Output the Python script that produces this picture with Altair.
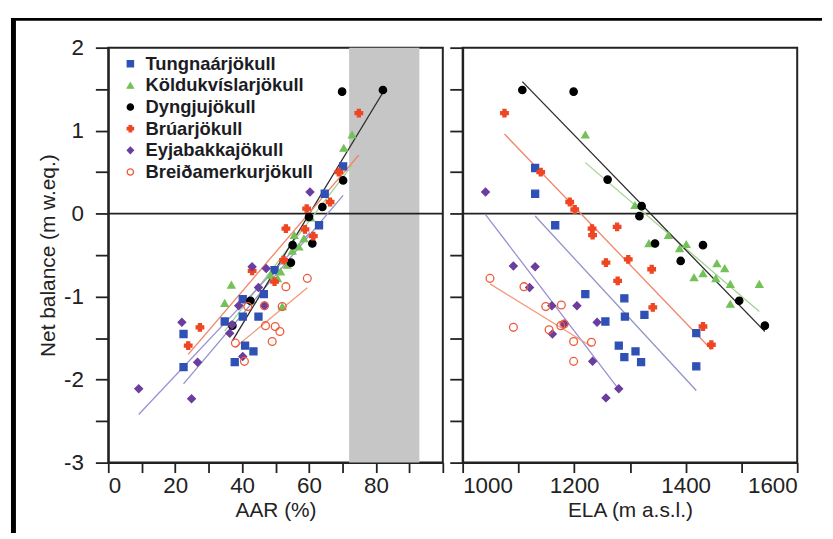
import altair as alt
import pandas as pd

GLACIERS = ["Tungnaárjökull", "Köldukvíslarjökull", "Dyngjujökull",
            "Brúarjökull", "Eyjabakkajökull", "Breiðamerkurjökull"]
SHAPES = ["square", "triangle-up", "circle", "cross", "diamond", "circle"]
FILLS = ["#2f50b4", "#74c15a", "#000000", "#ee4623", "#6a3d9e", "transparent"]
STROKES = ["#2f50b4", "#74c15a", "#000000", "#ee4623", "#6a3d9e", "#ee5a3a"]
SIZES = [64, 58, 88, 82, 50, 62]
LINE_COLORS = ["#8f93c9", "#a3d38f", "#2a2a2a", "#f08468", "#9b8fd3", "#f29a7c"]

# (AAR %, net balance m w.eq.)
TUNG_AAR = [(70.2, 0.57), (64.7, 0.24), (63.0, -0.14), (49.7, -0.68), (46.5, -0.97),
            (40.2, -1.03), (40.2, -1.24), (44.9, -1.24), (34.8, -1.30), (22.5, -1.45),
            (40.9, -1.59), (43.4, -1.66), (37.8, -1.79), (22.5, -1.85)]
KOLD_AAR = [(72.9, 0.95), (70.4, 0.79), (60.5, -0.05), (58.5, -0.30), (55.6, -0.26),
            (55.0, -0.45), (53.5, -0.62), (51.5, -0.70), (50.6, -0.78), (48.5, -0.74),
            (36.8, -0.86), (34.8, -1.08), (52.0, -1.12), (57.0, -0.40)]
DYNG_AAR = [(82.1, 1.49), (69.9, 1.47), (70.2, 0.40), (64.0, 0.08), (60.0, -0.04),
            (61.0, -0.36), (55.1, -0.38), (54.6, -0.59), (42.5, -1.05), (37.1, -1.35)]
BRUA_AAR = [(74.9, 1.21), (68.9, 0.50), (66.3, 0.14), (59.3, 0.06), (53.1, -0.18),
            (58.8, -0.19), (61.3, -0.27), (52.4, -0.56), (43.0, -0.69), (49.7, -0.82),
            (27.4, -1.37), (23.9, -1.59)]
EYJA_AAR = [(60.3, 0.26), (43.0, -0.64), (47.2, -0.66), (44.9, -0.89), (39.0, -1.11),
            (46.7, -1.11), (22.0, -1.31), (37.0, -1.34), (36.3, -1.44), (40.2, -1.72),
            (26.7, -1.79), (9.1, -2.11), (24.9, -2.23)]
BREI_AAR = [(59.5, -0.78), (53.1, -0.88), (41.7, -1.12), (46.7, -1.11), (52.0, -1.12),
            (47.0, -1.35), (49.9, -1.36), (51.3, -1.42), (38.0, -1.56), (49.0, -1.54),
            (40.7, -1.78)]

# (ELA m a.s.l., net balance m w.eq.)
TUNG_ELA = [(1130, 0.55), (1130, 0.24), (1166, -0.14), (1220, -0.97), (1290, -1.02),
            (1256, -1.30), (1291, -1.24), (1326, -1.22), (1419, -1.44), (1280, -1.59),
            (1310, -1.66), (1290, -1.73), (1320, -1.79), (1419, -1.84)]
KOLD_ELA = [(1220, 0.95), (1309, 0.10), (1369, -0.26), (1401, -0.37), (1334, -0.36),
            (1389, -0.42), (1456, -0.60), (1470, -0.66), (1415, -0.77), (1431, -0.72),
            (1454, -0.78), (1480, -0.85), (1532, -0.85), (1480, -1.09)]
DYNG_ELA = [(1107, 1.49), (1199, 1.47), (1260, 0.41), (1321, 0.09), (1317, -0.03),
            (1345, -0.36), (1431, -0.38), (1391, -0.57), (1496, -1.05), (1542, -1.35)]
BRUA_ELA = [(1075, 1.21), (1140, 0.50), (1192, 0.14), (1201, 0.05), (1277, -0.16),
            (1232, -0.18), (1233, -0.26), (1257, -0.59), (1297, -0.55), (1339, -0.67),
            (1278, -0.81), (1341, -1.13), (1431, -1.36), (1446, -1.58)]
EYJA_ELA = [(1041, 0.26), (1091, -0.63), (1130, -0.64), (1120, -0.89), (1160, -1.11),
            (1205, -1.11), (1241, -1.31), (1182, -1.33), (1161, -1.45), (1233, -1.78),
            (1280, -2.11), (1257, -2.22)]
BREI_ELA = [(1049, -0.78), (1110, -0.88), (1149, -1.12), (1177, -1.10), (1176, -1.35),
            (1182, -1.33), (1091, -1.37), (1155, -1.40), (1199, -1.54), (1231, -1.55),
            (1199, -1.78)]

BAND = (72, 93)  # shaded AAR range
Y_TICKS = [-3 + 0.5 * i for i in range(11)]

FONT = "Liberation Sans"
DARK = "#222222"
W, H = 337, 418


def frame(sets):
    rows = []
    for g, pts in zip(GLACIERS, sets):
        for x, y in pts:
            rows.append({"glacier": g, "x": x, "y": y})
    return pd.DataFrame(rows)


df_aar = frame([TUNG_AAR, KOLD_AAR, DYNG_AAR, BRUA_AAR, EYJA_AAR, BREI_AAR])
df_ela = frame([TUNG_ELA, KOLD_ELA, DYNG_ELA, BRUA_ELA, EYJA_ELA, BREI_ELA])

y_scale = alt.Scale(domain=[-3, 2], nice=False, zero=False)
y_axis_left = alt.Axis(values=Y_TICKS, labelExpr="datum.value % 1 == 0 ? '' + datum.value : ''",
                       title="Net balance (m w.eq.)", tickSize=13, labelPadding=12,
                       titlePadding=5, grid=False)
y_axis_right = alt.Axis(values=Y_TICKS, labels=False, title=None, tickSize=13, grid=False)

x_scale_l = alt.Scale(domain=[0, 100], nice=False, zero=False)
x_axis_l = alt.Axis(values=list(range(0, 101, 10)),
                    labelExpr="datum.value % 20 == 0 && datum.value < 100 ? datum.label : ''",
                    title="AAR (%)", tickSize=10, labelPadding=2, titlePadding=3, grid=False)
x_scale_r = alt.Scale(domain=[1000, 1600], nice=False, zero=False)
x_axis_r = alt.Axis(values=list(range(1000, 1601, 100)), format="d",
                    labelExpr="datum.value % 200 == 0 ? datum.label : ''",
                    title="ELA (m a.s.l.)", tickSize=10, labelPadding=2, titlePadding=3, grid=False)

LEG = alt.Legend(title=None, orient="none", legendX=13, legendY=7,
                 labelFont=FONT, labelFontSize=18.5, labelFontWeight="bold",
                 labelColor="#1c1c24", symbolSize=40, symbolStrokeWidth=1.3,
                 labelOffset=6, rowPadding=2.8, padding=0, labelLimit=400)

# non-legend scales use reversed domains so they are not merged with the legend
REV = GLACIERS[::-1]
size_scale = alt.Scale(domain=REV, range=SIZES[::-1])
line_scale = alt.Scale(domain=REV, range=LINE_COLORS[::-1])


def panel(df, xs, xa, ya, left):
    X = lambda f: alt.X(f, type="quantitative", scale=xs, axis=xa)
    Y = lambda f: alt.Y(f, type="quantitative", scale=y_scale, axis=ya)
    layers = []
    if left:
        band = alt.Chart(pd.DataFrame({"b0": [BAND[0]], "b1": [BAND[1]]})).mark_rect(
            color="#c6c6c6").encode(x=X("b0"), x2="b1")
        layers.append(band)
    zero = alt.Chart(pd.DataFrame({"z": [0]})).mark_rule(color=DARK, strokeWidth=1.6).encode(y=Y("z"))
    layers.append(zero)
    reg = alt.Chart(df).transform_regression("x", "y", groupby=["glacier"]).mark_line(
        strokeWidth=1.3).encode(
        x=X("x"), y=Y("y"),
        color=alt.Color("glacier:N", scale=line_scale, legend=None),
        detail="glacier:N")
    layers.append(reg)
    pts = alt.Chart(df).mark_point(filled=True, opacity=1, strokeWidth=1.3).encode(
        x=X("x"), y=Y("y"),
        fill=alt.Fill("glacier:N", scale=alt.Scale(domain=GLACIERS, range=FILLS), legend=LEG),
        stroke=alt.Stroke("glacier:N", scale=alt.Scale(domain=GLACIERS, range=STROKES), legend=LEG),
        shape=alt.Shape("glacier:N", scale=alt.Scale(domain=GLACIERS, range=SHAPES), legend=LEG),
        size=alt.Size("glacier:N", scale=size_scale, legend=None),
    )
    layers.append(pts)
    if left:
        one = pd.DataFrame({"a": [0]})
        top = alt.Chart(one).mark_rule(color="#000000", strokeWidth=3).encode(
            x=alt.value(-98), x2=alt.value(719), y=alt.value(-28.5))
        side = alt.Chart(one).mark_rule(color="#000000", strokeWidth=5).encode(
            x=alt.value(-95.5), y=alt.value(-30), y2=alt.value(489))
        layers += [top, side]
    return alt.layer(*layers).properties(width=W, height=H)


left = panel(df_aar, x_scale_l, x_axis_l, y_axis_left, True)
right = panel(df_ela, x_scale_r, x_axis_r, y_axis_right, False)

chart = alt.hconcat(left, right, spacing=20, bounds="flush").properties(
    padding={"left": 0, "top": 4, "right": 0, "bottom": 0},
    background="white",
).configure_view(stroke=DARK, strokeWidth=2).configure_axis(
    domainColor=DARK, domainWidth=2, tickColor=DARK, tickWidth=1.8,
    labelColor=DARK, titleColor=DARK, labelFont=FONT, titleFont=FONT,
    labelFontSize=22.5, titleFontSize=21, titleFontWeight="normal",
)

chart.save("out.html", embed_options={"renderer": "svg", "actions": False})
